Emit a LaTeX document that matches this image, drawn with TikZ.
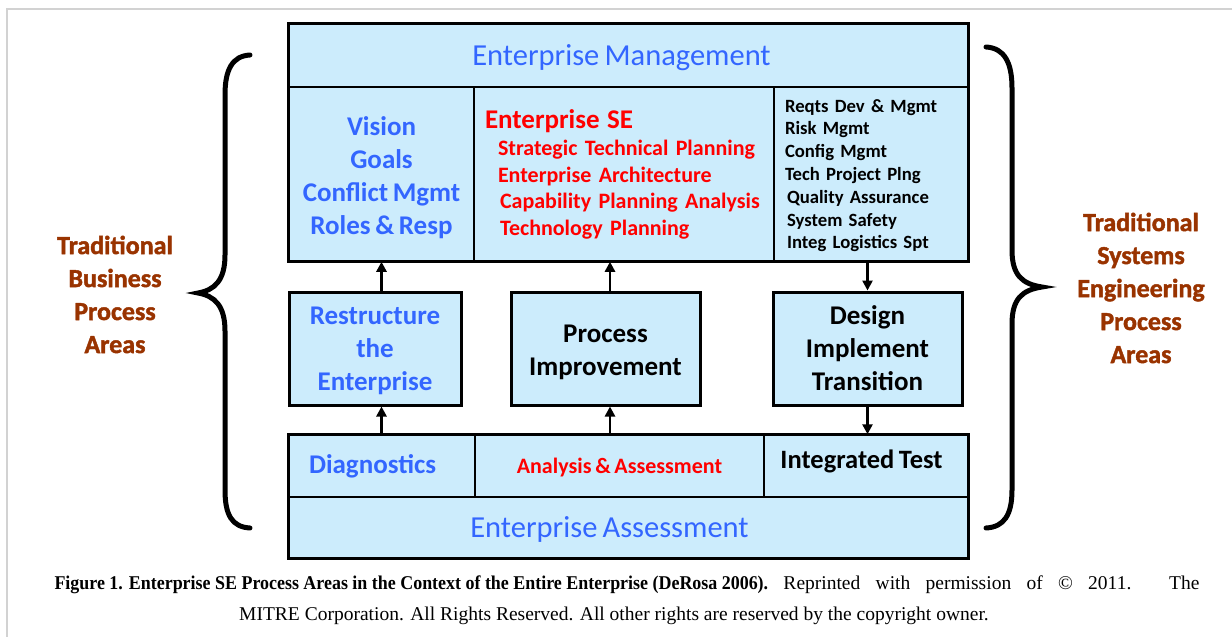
\documentclass[tikz,border=0pt]{standalone}
\usepackage{fontspec}
\setmainfont{Carlito}[WordSpace=0.75]
\newfontfamily\tradfont{Carlito}[BoldFeatures={FakeBold=1.6}]
\newfontfamily\capfont{Liberation Serif}
\usetikzlibrary{arrows.meta, positioning}

\definecolor{cellblue}{RGB}{204,236,252}
\definecolor{entblue}{RGB}{51,102,255}
\definecolor{entred}{RGB}{255,0,0}
\definecolor{tradbrown}{RGB}{153,51,0}
\definecolor{framegray}{RGB}{210,210,210}

\newcommand{\fsz}[2]{\fontsize{#1}{#2}\selectfont}
\newcommand{\nodepth}[1]{\raisebox{0pt}[\height][0pt]{#1}}

\begin{document}
\begin{tikzpicture}[
    x=1pt, y=-1pt,
    >={Triangle[length=10pt,width=10pt]},
    cell/.style={draw, line width=1.5pt, fill=cellblue, inner sep=0pt,
        align=center},
    midbox/.style={draw, line width=3pt, fill=cellblue, inner sep=0pt,
        align=center, minimum width=189, minimum height=113,
        font=\fsz{27}{33}\bfseries},
    arrow/.style={->, line width=2.5pt},
    brace/.style={line width=5pt, line cap=round},
    tradlbl/.style={font=\tradfont\fsz{26}{33}\bfseries, text=tradbrown,
        align=center},
]
\useasboundingbox (0,0) rectangle (1232,637);
\draw[framegray, line width=1.5pt] (7,637) -- (7,9) -- (1232,9);

% === Top block: management ===
\node[cell, minimum width=679, minimum height=63, font=\fsz{30.5}{34},
    text=entblue] (mgmt) at (628.5, 55.5)
    {\nodepth{Enterprise Management}\hspace*{14pt}};

\node[cell, minimum width=185, minimum height=174,
    font=\fsz{27}{33}\bfseries, text=entblue] (vision) at (381.5, 174)
    {\rule{0pt}{22.5pt}Vision\\Goals\\Conflict Mgmt\\\nodepth{Roles \& Resp}};

\node[cell, minimum width=300, minimum height=174, text width=278,
    inner xsep=11pt, align=left, font=\fsz{22}{26.5}\bfseries,
    text=entred] (ese) at (624, 174)
    {{\fsz{27}{26.5}Enterprise SE}\\[1pt]
    \hspace*{13pt}Strategic Technical Planning\\
    \hspace*{13pt}Enterprise Architecture\\
    \hspace*{15pt}Capability Planning Analysis\\
    \hspace*{15pt}Technology Planning};

\node[cell, minimum width=194, minimum height=174, text width=172,
    inner xsep=11pt, align=left, font=\fsz{18.7}{22.8}\bfseries]
    (seitems) at (871, 174)
    {Reqts Dev \& Mgmt\\Risk Mgmt\\Config Mgmt\\Tech Project Plng\\
    \hspace*{2pt}Quality Assurance\\\hspace*{2pt}System Safety\\
    \hspace*{2pt}\nodepth{Integ Logistics Spt}};

\draw[line width=3pt] (mgmt.north west) rectangle (seitems.south east);

% === Middle row ===
\node[midbox, minimum width=172, text=entblue] (restr) at (375, 348.5)
    {Restructure\\the\\\nodepth{Enterprise}};
\node[midbox] (procimp) at (605.5, 348.5)
    {\rule{0pt}{21pt}Process\\\nodepth{Improvement}};
\node[midbox] (design) at (867.5, 348.5) {Design\\Implement\\Transition};

% === Bottom block: assessment ===
\node[cell, minimum width=186, minimum height=62, text width=146,
    inner xsep=20pt, align=left, font=\fsz{27}{30}\bfseries,
    text=entblue] (diag) at (382, 466) {Diagnostics};
\node[cell, minimum width=289, minimum height=62,
    font=\fsz{22}{26}\bfseries, text=entred] (anal) at (619.5, 466)
    {\nodepth{Analysis \& Assessment}};
\node[cell, minimum width=204, minimum height=62,
    font=\fsz{26.5}{30}\bfseries] (itest) at (866, 466)
    {\raisebox{5pt}[\height][\depth]{Integrated Test}\hspace*{9pt}};
\node[cell, minimum width=679, minimum height=61, font=\fsz{30.5}{34},
    text=entblue] (assess) at (628.5, 527.5)
    {\nodepth{Enterprise Assessment}\hspace*{38pt}};

\draw[line width=3pt] (diag.north west) rectangle (assess.south east);

% === Arrows ===
\draw[arrow] (vision.south |- restr.north) -- (vision.south);
\draw[arrow] ([xshift=4.5pt]procimp.north) -- ([xshift=4.5pt]procimp.north |- ese.south);
\draw[arrow] (design.north |- seitems.south) -- (design.north);
\draw[arrow] (vision.south |- diag.north) -- (vision.south |- restr.south);
\draw[arrow] ([xshift=4.5pt]procimp.south |- anal.north) -- ([xshift=4.5pt]procimp.south);
\draw[arrow] (design.south) -- (design.south |- itest.north);

% === Braces ===
\draw[brace] (250,55) .. controls (232,56) and (225,70) .. (225,95)
    -- (225,255) .. controls (225,280) and (215,290) .. (198,293)
    .. controls (215,296) and (225,306) .. (225,331)
    -- (225,490) .. controls (225,515) and (232,527) .. (250,528);
\draw[brace] (986,47) .. controls (1004,48) and (1012,62) .. (1012,88)
    -- (1012,250) .. controls (1012,275) and (1022,284) .. (1042,287)
    .. controls (1022,290) and (1012,299) .. (1012,324)
    -- (1012,490) .. controls (1012,515) and (1004,527) .. (986,528);

\node[tradlbl] (tradbiz) at (115, 294.5)
    {Traditional\\Business\\Process\\Areas};
\node[tradlbl] (tradse) at (1141, 288)
    {Traditional\\Systems\\Engineering\\Process\\Areas};

% === Caption ===
\node[font=\capfont\fsz{19.5}{31}, align=center] (caption) at (627, 600)
    {\makebox[1145pt][s]{\scalebox{0.92}[1]{\textbf{Figure 1. Enterprise SE
    Process Areas in the Context of the Entire Enterprise (DeRosa 2006).}}
    Reprinted with permission of \textcopyright{} 2011. The}\\
    MITRE Corporation. All Rights Reserved. All other rights are reserved
    by the copyright owner.\hspace*{26pt}};

\end{tikzpicture}
\end{document}
